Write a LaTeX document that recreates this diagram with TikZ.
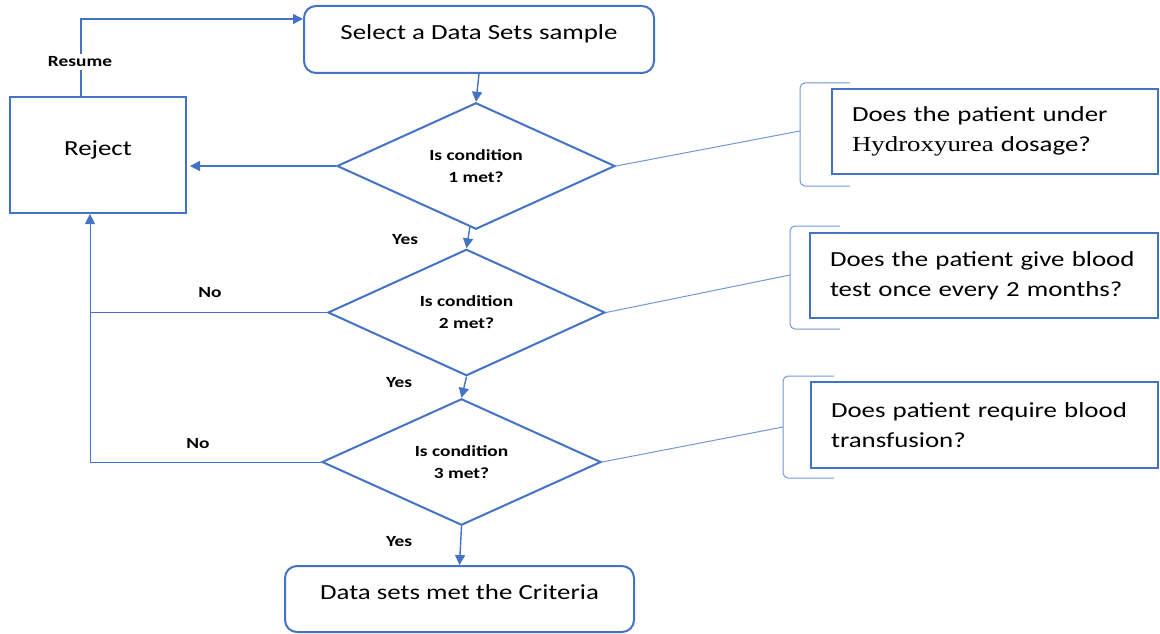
\documentclass[tikz,border=0pt]{standalone}
\usepackage{fontspec}
\setmainfont{Carlito}[FakeStretch=1.25]
\newfontfamily\serifpart{Liberation Serif}[FakeStretch=1.25]
\usetikzlibrary{shapes.geometric,arrows.meta,calc}

\definecolor{mainblue}{HTML}{4472C4}
\definecolor{paleblue}{HTML}{7397D8}

\begin{document}
\begin{tikzpicture}[x=1pt,y=-1pt,
  mainfont/.style={font=\fontsize{21.5}{30}\selectfont},
  tagfont/.style={font=\fontsize{15.5}{22}\selectfont\bfseries},
  roundbox/.style={draw=mainblue,line width=2pt,rounded corners=12pt,mainfont,
    text height=15pt,text depth=15pt,inner sep=0pt},
  plainbox/.style={draw=mainblue,line width=2pt,mainfont,
    text height=15pt,text depth=15pt,inner sep=0pt},
  decision/.style={diamond,draw=mainblue,line width=2pt,inner sep=0pt,
    tagfont,align=center},
  note/.style={draw=mainblue,line width=2pt,mainfont,align=left,
    inner xsep=20pt,inner ysep=0pt},
  tip/.style={-{Triangle[length=10pt,width=10pt]}},
  flow/.style={draw=mainblue,line width=1.4pt,tip},
  backline/.style={draw=mainblue,line width=1pt},
  brace/.style={draw=paleblue,line width=1pt,rounded corners=5pt},
  link/.style={draw=paleblue,line width=1pt},
  tag/.style={tagfont,fill=white,inner sep=3pt}
]
\useasboundingbox (0,0) rectangle (1160,634);

% main flow
\node[roundbox,minimum width=350pt,minimum height=67pt] (sel) at (479,39.5)
  {Select a Data Sets sample};
\node[plainbox,minimum width=176pt,minimum height=116pt] (rej) at (98,155)
  {Reject};
\node[decision,minimum width=278pt,minimum height=124pt] (d1) at (476,166)
  {Is condition\\1 met?};
\node[decision,minimum width=277pt,minimum height=115pt] (d2) at (466.5,312.5)
  {Is condition\\2 met?};
\node[decision,minimum width=279pt,minimum height=121pt] (d3) at (461.5,462)
  {Is condition\\3 met?};
\node[roundbox,minimum width=349pt,minimum height=66pt] (done) at (459.5,599)
  {Data sets met the Criteria};

% questions behind each condition
\node[note,text width=286pt,minimum height=85pt] (q1) at (995,131.5)
  {Does the patient under\\{\serifpart Hydroxyurea} dosage?};
\node[note,text width=308pt,minimum height=85pt] (q2) at (984,275.5)
  {Does the patient give blood\\test once every 2 months?};
\node[note,text width=307pt,minimum height=86pt] (q3) at (984.5,425)
  {Does patient require blood\\transfusion?};

% brackets in front of the questions
\draw[brace] (850,83) -- (800,83) -- (800,186) -- (850,186);
\coordinate (k1) at (800,131);
\draw[brace] (840,226) -- (790,226) -- (790,329) -- (840,329);
\coordinate (k2) at (790,275);
\draw[brace] (834,376) -- (783,376) -- (783,478) -- (834,478);
\coordinate (k3) at (783,427);

\draw[link] (d1.east) -- (k1);
\draw[link] (d2.east) -- (k2);
\draw[link] (d3.east) -- (k3);

% downward flow
\draw[flow] (sel.south) -- (d1.north);
\draw[flow] ([xshift=-6pt,yshift=4pt]d1.south) -- (d2.north);
\draw[flow] (d2.south) -- (d3.north);
\draw[flow] (d3.south) -- (done.north);

% rejection paths
\draw[flow,shorten >=3pt] (d1.west) -- (d1.west -| rej.east);
\coordinate (up) at ([xshift=-8pt]rej.south);
\draw[backline] (d3.west) -| (d2.west -| up);
\draw[backline,draw=mainblue,tip] (d2.west) -| (up);

% resume loop
\coordinate (rtop) at ([xshift=-17pt]rej.north);
\coordinate (sin) at ([yshift=20.5pt]sel.west);
\draw[flow] (rtop) |- (sin);

% labels
\node[tag] (resume) at (80,62) {Resume};
\node[tag] (yes1) at (405,240) {Yes};
\node[tag] (yes2) at (399,383) {Yes};
\node[tag] (yes3) at (399,542) {Yes};
\node[tag] (no1) at (210,293) {No};
\node[tag] (no2) at (198,444) {No};
\end{tikzpicture}
\end{document}
